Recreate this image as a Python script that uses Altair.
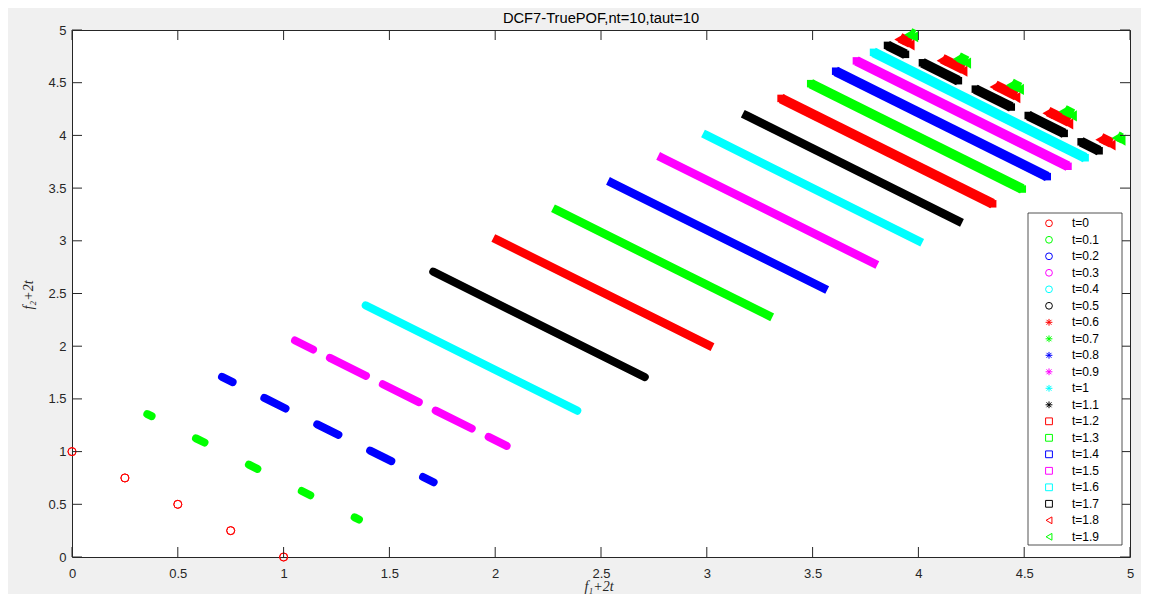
import altair as alt
import pandas as pd

# ---------------- data ----------------
t_labels = ["t=0", "t=0.1", "t=0.2", "t=0.3", "t=0.4", "t=0.5", "t=0.6", "t=0.7",
            "t=0.8", "t=0.9", "t=1", "t=1.1", "t=1.2", "t=1.3", "t=1.4", "t=1.5",
            "t=1.6", "t=1.7", "t=1.8", "t=1.9"]
# shift of each front (value of f1+2t at f1=0)
offsets = [0.0, 0.356, 0.709, 1.054, 1.388, 1.707, 2.009, 2.291, 2.551, 2.788,
           3.0, 3.188, 3.351, 3.491, 3.609, 3.707, 3.788, 3.854, 3.909, 3.956]
colors = ["#ff0000", "#00ff00", "#0000ff", "#ff00ff", "#00ffff", "#000000"] * 3 + ["#ff0000", "#00ff00"]
markers = ["o"] * 6 + ["*"] * 6 + ["s"] * 6 + ["<"] * 2

# f1 intervals (start, end) of the disconnected pieces of each front
pieces_t0 = [(0, 0), (0.25, 0.25), (0.5, 0.5), (0.75, 0.75), (1, 1)]
pieces_a = [(0, 0.02), (0.23, 0.27), (0.48, 0.52), (0.73, 0.77), (0.98, 1)]
pieces_b = [(0, 0.05), (0.2, 0.3), (0.45, 0.55), (0.7, 0.8), (0.95, 1)]
pieces_c = [(0, 0.085), (0.165, 0.335), (0.415, 0.585), (0.665, 0.835), (0.915, 1)]
pieces_full = [(0, 1)]
pieces = [pieces_t0, pieces_a, pieces_b, pieces_c] + [pieces_full] * 13 + [pieces_c, pieces_b, pieces_a]

tick_values = [0, 0.5, 1, 1.5, 2, 2.5, 3, 3.5, 4, 4.5, 5]

title_text = "DCF7-TruePOF,nt=10,taut=10"
x_title = "f\u2081+2t"
y_title = "f\u2082+2t"

# ---------------- tables ----------------
seg_rows, end_rows = [], []
for i, (lab, off) in enumerate(zip(t_labels, offsets)):
    for a, b in pieces[i]:
        seg_rows.append({"i": i, "t": lab, "x": off + a, "y": off + 1 - a,
                         "x2": off + b, "y2": off + 1 - b})
        end_rows.append({"i": i, "t": lab, "x": off + a, "y": off + 1 - a})
        end_rows.append({"i": i, "t": lab, "x": off + b, "y": off + 1 - b})
segs = pd.DataFrame(seg_rows)
ends = pd.DataFrame(end_rows)
ticks = pd.DataFrame({"v": tick_values})
one = pd.DataFrame({"a": [0]})
legend_df = pd.DataFrame({"t": t_labels})

# ---------------- styling ----------------
W, H = 1058, 527
FONT = "Liberation Sans"
SERIF = "Liberation Serif"
AX = "#262626"
ASTER = "M-1,0L1,0M0,-1L0,1M-0.72,-0.72L0.72,0.72M-0.72,0.72L0.72,-0.72"
shape_range = ["circle"] * 6 + [ASTER] * 6 + ["square"] * 6 + ["triangle-left"] * 2

xs = alt.Scale(domain=[0, 5], nice=False, zero=False)
ys = alt.Scale(domain=[0, 5], nice=False, zero=False)

x_axis = alt.Axis(values=tick_values, ticks=False, domain=False, grid=False,
                  labelFlush=False, labelOverlap=False, labelPadding=10,
                  labelFont=FONT, labelFontSize=13, labelColor=AX,
                  labelExpr="'' + datum.value", title=None)
y_axis = alt.Axis(values=tick_values, ticks=False, domain=False, grid=False,
                  labelFlush=False, labelOverlap=False, labelPadding=6,
                  labelFont=FONT, labelFontSize=13, labelColor=AX,
                  labelExpr="'' + datum.value", title=None)

color_scale = alt.Scale(domain=t_labels, range=colors)
shape_scale = alt.Scale(domain=t_labels, range=shape_range)


def X(f):
    return alt.X(f, type="quantitative", scale=xs, axis=x_axis)


def Y(f):
    return alt.Y(f, type="quantitative", scale=ys, axis=y_axis)


def C():
    return alt.Color("t:N", scale=color_scale, legend=None)


rule_style = {
    "o": dict(strokeWidth=8, strokeCap="round"),
    "*": dict(strokeWidth=8.5, strokeCap="square"),
    "s": dict(strokeWidth=10, strokeCap="butt"),
    "<": dict(strokeWidth=10, strokeCap="butt", xOffset=0.9, x2Offset=0.9,
              yOffset=-1.9, y2Offset=-1.9),
}

layers = []
for i, m in enumerate(markers):
    if i == 0:
        layers.append(
            alt.Chart(ends).transform_filter(f"datum.i == {i}")
            .mark_point(filled=False, size=64, strokeWidth=1, opacity=1, shape="circle")
            .encode(x=X("x"), y=Y("y"), color=C())
        )
        continue
    layers.append(
        alt.Chart(segs).transform_filter(f"datum.i == {i}")
        .mark_rule(**rule_style[m])
        .encode(x=X("x"), y=Y("y"), x2="x2:Q", y2="y2:Q", color=C())
    )
    if m == "s":
        layers.append(
            alt.Chart(ends).transform_filter(f"datum.i == {i}")
            .mark_point(shape="square", filled=True, size=56, opacity=1, strokeWidth=0)
            .encode(x=X("x"), y=Y("y"), color=C())
        )
    if m == "<":
        layers.append(
            alt.Chart(ends).transform_filter(f"datum.i == {i}")
            .mark_point(shape="triangle-left", filled=True, size=125, opacity=1, strokeWidth=0)
            .encode(x=X("x"), y=Y("y"), color=C())
        )

# inward ticks on all four sides
tick_mark = dict(color=AX, strokeWidth=1)
layers.append(alt.Chart(ticks).mark_rule(**tick_mark)
              .encode(x=X("v"), y=alt.value(H), y2=alt.value(H - 10)))
layers.append(alt.Chart(ticks).mark_rule(**tick_mark)
              .encode(x=X("v"), y=alt.value(0), y2=alt.value(10)))
layers.append(alt.Chart(ticks).mark_rule(**tick_mark)
              .encode(y=Y("v"), x=alt.value(0), x2=alt.value(10)))
layers.append(alt.Chart(ticks).mark_rule(**tick_mark)
              .encode(y=Y("v"), x=alt.value(W - 10), x2=alt.value(W)))

# titles as text
layers.append(alt.Chart(one).mark_text(font=FONT, fontSize=14.7, color="#000000",
                                       align="center", baseline="alphabetic")
              .encode(x=alt.value(529), y=alt.value(-6.6), text=alt.value(title_text)))
layers.append(alt.Chart(one).mark_text(font=SERIF, fontSize=14, fontStyle="italic", color=AX,
                                       align="center", baseline="alphabetic")
              .encode(x=alt.value(527), y=alt.value(561), text=alt.value(x_title)))
layers.append(alt.Chart(one).mark_text(font=SERIF, fontSize=14, fontStyle="italic", color=AX,
                                       align="center", baseline="middle", angle=270)
              .encode(x=alt.value(-43), y=alt.value(265), text=alt.value(y_title)))

main = alt.layer(*layers)

# ---------------- legend (boxed, inside the axes) ----------------
leg_y = alt.Y("t:N", scale=alt.Scale(type="point", domain=t_labels, range=[193.3, 506.8],
                                     padding=0), axis=None)
leg_box = (alt.Chart(one).mark_rect(fill="white", stroke=AX, strokeWidth=0.8)
           .encode(x=alt.value(956), x2=alt.value(1050), y=alt.value(183), y2=alt.value(515)))
leg_sym = (alt.Chart(legend_df).mark_point(filled=False, size=46, strokeWidth=1, opacity=1)
           .encode(x=alt.value(977), y=leg_y,
                   stroke=alt.Stroke("t:N", scale=color_scale, legend=None),
                   shape=alt.Shape("t:N", scale=shape_scale, legend=None)))
leg_txt = (alt.Chart(legend_df).mark_text(font=FONT, fontSize=12, color="#000000",
                                          align="left", baseline="middle")
           .encode(x=alt.value(1000), y=leg_y, text="t:N"))
leg = alt.layer(leg_box, leg_sym, leg_txt)

chart = (
    alt.layer(main, leg)
    .resolve_scale(y="independent")
    .properties(
        width=W, height=H,
        autosize=alt.AutoSizeParams(type="none"),
        padding={"left": 64, "top": 22, "right": 11, "bottom": 37},
    )
    .configure(background="#f0f0f0")
    .configure_view(fill="white", stroke=AX, strokeWidth=1)
)

chart.save("out.html", embed_options={"renderer": "svg", "actions": False})
